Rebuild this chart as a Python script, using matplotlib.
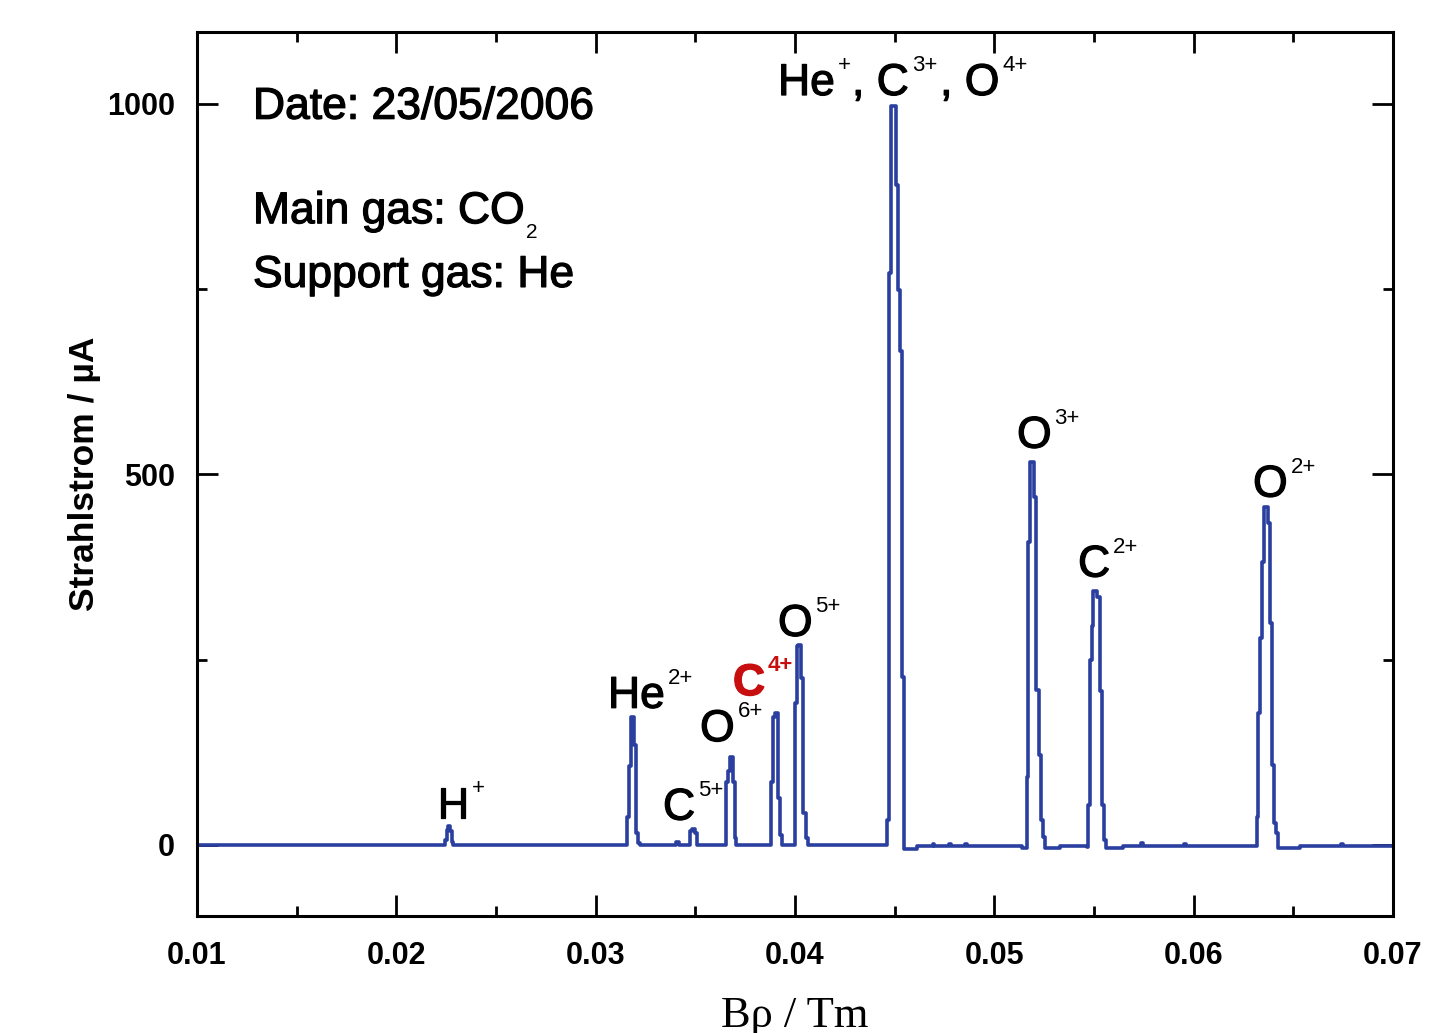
import numpy as np
import matplotlib
matplotlib.use('Agg')
import matplotlib.pyplot as plt
import matplotlib.patheffects as pe
from matplotlib.ticker import MultipleLocator, FormatStrFormatter

plt.rcParams['font.family'] = ['Liberation Sans', 'DejaVu Sans']

# spectrum: start of each step (B*rho in Tm) and beam current (uA)
brho = [0.01000,
        0.02245, 0.02253, 0.02260, 0.02270, 0.02278, 0.02286,
        0.03157, 0.03167, 0.03177, 0.03194, 0.03204, 0.03214, 0.03222,
        0.03405, 0.03418,
        0.03473, 0.03485, 0.03500, 0.03510,
        0.03654, 0.03664, 0.03672, 0.03690, 0.03697, 0.03705,
        0.03880, 0.03890, 0.03898, 0.03915, 0.03925, 0.03935,
        0.04000, 0.04008, 0.04015, 0.04030, 0.04040, 0.04055, 0.04065,
        0.04460, 0.04470, 0.04483, 0.04508, 0.04518, 0.04526, 0.04535, 0.04548, 0.04612,
        0.04690, 0.04698, 0.04775, 0.04783, 0.04855, 0.04863,
        0.05140,
        0.05163, 0.05171, 0.05181, 0.05200, 0.05211, 0.05224, 0.05233, 0.05244, 0.05254, 0.05330,
        0.05465, 0.05472, 0.05480, 0.05490, 0.05497, 0.05515, 0.05528, 0.05540, 0.05552, 0.05562, 0.05646,
        0.05735, 0.05748, 0.05950, 0.05960,
        0.06316, 0.06324, 0.06334, 0.06345, 0.06355, 0.06372, 0.06382, 0.06395, 0.06405, 0.06415, 0.06425, 0.06534,
        0.06740, 0.06750, 0.07000]
current = [0,
           6, 20, 26, 18, 4, 0,
           38, 106, 173, 135, 16, 3, 0,
           4, 0,
           18, 21, 16, 0,
           85, 99, 119, 85, 9, 0,
           85, 173, 178, 63, 13, 0,
           191, 268, 270, 225, 43, 9, 0,
           34, 772, 997, 891, 749, 666, 227, -6, -2,
           1, -2, 1, -2, 1, -2,
           -4,
           92, 409, 517, 470, 209, 121, 34, 11, -4, -1,
           -3, 54, 250, 295, 342, 335, 207, 54, 7, -4, -1,
           2, -1, 1, -1,
           38, 178, 279, 382, 456, 434, 300, 108, 29, 16, -4, -1,
           1, -1, -1]

# ion labels: base text, charge, anchor (left, baseline) in data units
ion_base = ['H', 'He', 'C', 'O', 'C', 'O', 'He', ', C', ', O', 'O', 'C', 'O']
ion_charge = ['+', '2+', '5+', '6+', '4+', '5+', '+', '3+', '4+', '3+', '2+', '2+']
label_x = [0.02204, 0.03062, 0.03338, 0.03524, 0.03689, 0.03915,
           0.03915, 0.04286, 0.04728, 0.05114, 0.05420, 0.06298]
label_y = [36, 185, 34, 140, 202, 282, 1012, 1012, 1012, 536, 362, 470]
highlight = 'C4+'

thick = [pe.withStroke(linewidth=0.9, foreground='black')]

fig = plt.figure(figsize=(14.47, 10.33), dpi=100)
ax = fig.add_axes([0.1361, 0.1133, 0.8266, 0.8557])

ax.plot(brho, current, drawstyle='steps-post', color='#2a3f9f', lw=2.6)

ax.set_xlim(0.01, 0.07)
ax.set_ylim(-96, 1097)
ax.xaxis.set_major_locator(MultipleLocator(0.01))
ax.xaxis.set_minor_locator(MultipleLocator(0.005))
ax.xaxis.set_major_formatter(FormatStrFormatter('%.2f'))
ax.yaxis.set_major_locator(MultipleLocator(500))
ax.yaxis.set_minor_locator(MultipleLocator(250))
ax.tick_params(which='both', direction='in', top=True, right=True, width=2, color='black')
ax.tick_params(which='major', length=15)
ax.tick_params(which='minor', length=7.5)
ax.tick_params(axis='x', which='major', pad=18, labelsize=22)
ax.tick_params(axis='y', which='major', pad=16, labelsize=22)
for lab in ax.get_xticklabels() + ax.get_yticklabels():
    lab.set_fontweight('bold')
for sp in ax.spines.values():
    sp.set_linewidth(2.2)

ax.set_ylabel('Strahlstrom / µA', fontsize=25.5, fontweight='bold', labelpad=4)
fig.text(795 / 1447, 0.006, 'Bρ / Tm', fontsize=32, ha='center', va='baseline',
         family=['Liberation Serif', 'DejaVu Serif'])

# info text
ax.text(0.01281, 980, 'Date: 23/05/2006', fontsize=32, va='baseline', path_effects=thick)
t_main = ax.text(0.01281, 839, 'Main gas: CO', fontsize=32, va='baseline', path_effects=thick)
ax.annotate('2', xy=(1, 0), xycoords=t_main, xytext=(1, -4), textcoords='offset points',
            fontsize=15, va='baseline')
ax.text(0.01281, 753, 'Support gas: He', fontsize=32, va='baseline', path_effects=thick)

for base, q, lx, ly in zip(ion_base, ion_charge, label_x, label_y):
    if base.strip(', ') + q == highlight:
        col, fw = '#c80f0f', 'bold'
    else:
        col, fw = 'black', 'normal'
    t = ax.text(lx, ly, base, fontsize=32, va='baseline', color=col, fontweight=fw,
                path_effects=[pe.withStroke(linewidth=0.9, foreground=col)])
    ax.annotate(q, xy=(1, 1), xycoords=t, xytext=(2, -6), textcoords='offset points',
                fontsize=16, va='baseline', color=col, fontweight=fw)

fig.savefig('out.png', dpi=100, facecolor='white')
